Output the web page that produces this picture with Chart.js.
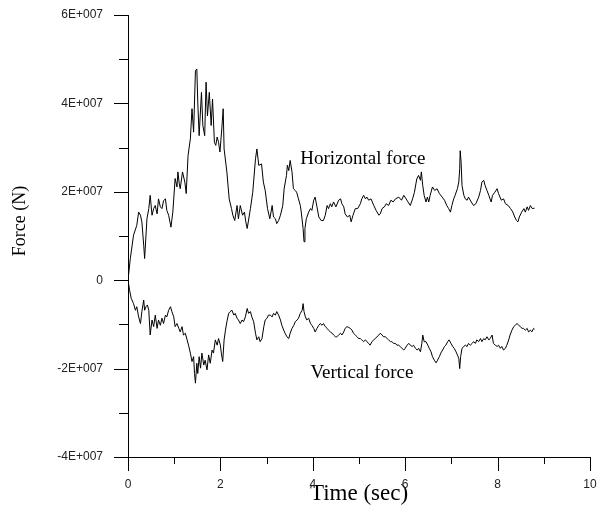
<!DOCTYPE html>
<html>
<head>
<meta charset="utf-8">
<title>Force history</title>
<script src="https://cdn.jsdelivr.net/npm/chart.js@4.4.1/dist/chart.umd.min.js"></script>
<style>
  html, body { margin: 0; padding: 0; background: #fff; }
  #wrap { width: 608px; height: 512px; }
</style>
</head>
<body>
<div id="wrap"><canvas id="forceChart" width="608" height="512"></canvas></div>
<script>
// ---------------------------------------------
// DATA  (time in s, force in 1E+006 N)
// ---------------------------------------------

const horizTime = [
  0, 0.05, 0.12, 0.19, 0.23, 0.27, 0.30, 0.34, 0.36, 0.41,
  0.45, 0.48, 0.52, 0.555, 0.59, 0.63, 0.66, 0.70, 0.735, 0.77,
  0.81, 0.84, 0.88, 0.93, 0.97, 0.99, 1.02, 1.06, 1.08, 1.11,
  1.13, 1.18, 1.23, 1.26, 1.30, 1.35, 1.385, 1.42, 1.46, 1.49,
  1.51, 1.54, 1.59, 1.62, 1.66, 1.69, 1.72, 1.76, 1.80, 1.83,
  1.87, 1.90, 1.93, 1.96, 1.99, 2.03, 2.06, 2.08, 2.14, 2.19,
  2.24, 2.27, 2.31, 2.36, 2.39, 2.43, 2.48, 2.52, 2.55, 2.58,
  2.65, 2.70, 2.76, 2.79, 2.83, 2.89, 2.93, 2.97, 3.02, 3.07,
  3.12, 3.15, 3.19, 3.22, 3.26, 3.30, 3.35, 3.38, 3.43, 3.45,
  3.48, 3.51, 3.55, 3.58, 3.62, 3.65, 3.69, 3.73, 3.75, 3.79,
  3.81, 3.83, 3.86, 3.91, 3.95, 3.98, 4.02, 4.05, 4.09, 4.13,
  4.18, 4.23, 4.27, 4.31, 4.34, 4.38, 4.41, 4.45, 4.50, 4.56,
  4.60, 4.63, 4.67, 4.70, 4.75, 4.80, 4.83, 4.87, 4.92, 4.97,
  5.03, 5.06, 5.10, 5.14, 5.17, 5.21, 5.26, 5.32, 5.37, 5.43,
  5.46, 5.50, 5.55, 5.59, 5.64, 5.69, 5.74, 5.79, 5.86, 5.92,
  5.97, 6.02, 6.06, 6.11, 6.16, 6.20, 6.25, 6.29, 6.33, 6.35,
  6.38, 6.41, 6.45, 6.48, 6.51, 6.54, 6.59, 6.64, 6.69, 6.74,
  6.80, 6.85, 6.90, 6.94, 6.98, 7.01, 7.05, 7.08, 7.13, 7.16,
  7.18, 7.19, 7.21, 7.23, 7.27, 7.30, 7.34, 7.37, 7.43, 7.48,
  7.53, 7.59, 7.63, 7.66, 7.70, 7.73, 7.77, 7.81, 7.86, 7.89,
  7.94, 7.99, 8.02, 8.08, 8.13, 8.17, 8.23, 8.28, 8.33, 8.37,
  8.41, 8.44, 8.47, 8.52, 8.57, 8.60, 8.64, 8.67, 8.71, 8.75,
  8.80
];
const horizForce = [
  0, 4.9, 10.2, 12.4, 15.4, 14.7, 13.2, 7.9, 4.9, 13.9,
  16.2, 19.2, 14.7, 16.2, 16.9, 15.0, 18.4, 16.6, 16.2, 18.0,
  18.4, 15.8, 14.7, 12.0, 15.4, 18.4, 23.0, 21.1, 24.5, 21.8,
  20.7, 24.5, 22.2, 19.6, 28.2, 32.0, 38.8, 33.5, 47.4, 47.8,
  40.3, 32.7, 42.5, 35.0, 32.7, 44.8, 37.2, 42.5, 35.0, 41.0,
  31.2, 30.5, 32.4, 31.2, 29.0, 34.2, 38.8, 29.7, 24.5, 18.4,
  16.2, 14.7, 13.5, 16.9, 13.9, 16.9, 14.7, 15.4, 13.2, 11.7,
  16.2, 19.9, 27.5, 29.7, 26.0, 26.3, 22.2, 20.3, 16.2, 13.9,
  16.9, 14.3, 13.9, 12.8, 13.5, 14.7, 16.9, 20.7, 23.7, 26.0,
  24.8, 27.1, 24.5, 20.7, 20.3, 19.9, 18.4, 16.9, 15.4, 11.7,
  8.7, 11.7, 13.9, 15.4, 16.2, 15.8, 18.1, 18.8, 16.6, 14.3,
  13.5, 13.5, 14.7, 16.9, 16.2, 17.3, 16.6, 17.7, 16.6, 18.1,
  18.4, 17.3, 16.6, 15.0, 14.3, 14.7, 13.2, 14.7, 16.2, 16.2,
  17.3, 18.4, 19.2, 18.4, 18.8, 18.1, 18.4, 16.9, 15.8, 14.7,
  15.0, 16.2, 16.6, 17.3, 16.9, 18.1, 17.7, 18.4, 18.8, 18.1,
  19.2, 18.4, 17.7, 16.9, 18.4, 19.9, 22.9, 23.7, 22.6, 24.5,
  21.4, 19.2, 17.7, 18.8, 17.7, 19.2, 21.1, 20.3, 20.7, 19.6,
  18.8, 18.1, 16.9, 16.2, 15.4, 16.9, 18.4, 19.2, 20.7, 22.2,
  25.2, 29.3, 26.7, 21.4, 19.2, 18.4, 18.1, 18.8, 17.7, 16.9,
  17.3, 18.8, 20.3, 22.2, 22.6, 21.4, 20.3, 19.2, 17.7, 19.2,
  19.9, 20.7, 19.6, 18.1, 18.4, 17.3, 16.9, 16.2, 15.4, 14.3,
  13.5, 13.2, 14.3, 15.4, 16.2, 15.4, 16.6, 15.8, 16.9, 16.2,
  16.3
];

const vertTime = [
  0, 0.035, 0.07, 0.12, 0.16, 0.19, 0.23, 0.27, 0.30, 0.34,
  0.36, 0.39, 0.42, 0.45, 0.48, 0.52, 0.555, 0.59, 0.63, 0.66,
  0.70, 0.735, 0.77, 0.81, 0.84, 0.88, 0.92, 0.95, 0.99, 1.02,
  1.06, 1.10, 1.13, 1.17, 1.20, 1.24, 1.28, 1.31, 1.35, 1.385,
  1.42, 1.44, 1.46, 1.49, 1.51, 1.54, 1.57, 1.60, 1.64, 1.67,
  1.71, 1.745, 1.78, 1.82, 1.85, 1.89, 1.93, 1.96, 2.00, 2.02,
  2.05, 2.08, 2.11, 2.14, 2.18, 2.21, 2.25, 2.29, 2.32, 2.36,
  2.39, 2.43, 2.47, 2.50, 2.54, 2.58, 2.61, 2.65, 2.68, 2.72,
  2.76, 2.79, 2.83, 2.86, 2.90, 2.94, 2.97, 3.01, 3.04, 3.08,
  3.12, 3.15, 3.19, 3.22, 3.26, 3.30, 3.33, 3.37, 3.40, 3.44,
  3.48, 3.51, 3.55, 3.59, 3.62, 3.66, 3.69, 3.73, 3.77, 3.79,
  3.81, 3.84, 3.87, 3.91, 3.95, 3.98, 4.02, 4.05, 4.09, 4.13,
  4.16, 4.20, 4.23, 4.27, 4.31, 4.34, 4.38, 4.42, 4.45, 4.49,
  4.52, 4.56, 4.60, 4.63, 4.67, 4.70, 4.74, 4.78, 4.81, 4.85,
  4.88, 4.92, 4.96, 4.99, 5.03, 5.06, 5.10, 5.14, 5.17, 5.21,
  5.24, 5.28, 5.32, 5.35, 5.39, 5.43, 5.46, 5.50, 5.53, 5.57,
  5.61, 5.64, 5.68, 5.71, 5.75, 5.79, 5.82, 5.86, 5.89, 5.93,
  5.97, 6.00, 6.04, 6.08, 6.11, 6.15, 6.18, 6.22, 6.26, 6.29,
  6.33, 6.36, 6.38, 6.41, 6.45, 6.49, 6.52, 6.56, 6.59, 6.63,
  6.67, 6.70, 6.74, 6.77, 6.81, 6.85, 6.88, 6.92, 6.95, 6.99,
  7.03, 7.06, 7.10, 7.13, 7.16, 7.18, 7.20, 7.23, 7.27, 7.30,
  7.34, 7.37, 7.41, 7.45, 7.48, 7.52, 7.55, 7.59, 7.63, 7.66,
  7.70, 7.73, 7.77, 7.81, 7.84, 7.88, 7.91, 7.95, 7.99, 8.02,
  8.06, 8.09, 8.13, 8.17, 8.20, 8.24, 8.27, 8.31, 8.35, 8.38,
  8.42, 8.46, 8.49, 8.53, 8.56, 8.60, 8.64, 8.67, 8.71, 8.74,
  8.78, 8.80
];
const vertForce = [
  0, -2.3, -4.1, -5.3, -6.8, -6.0, -8.3, -9.8, -7.1, -4.5,
  -6.8, -6.0, -5.6, -6.8, -12.4, -9.0, -10.5, -7.9, -10.9, -9.0,
  -10.2, -8.6, -9.8, -7.9, -8.3, -6.8, -6.0, -7.1, -8.3, -10.5,
  -9.8, -10.9, -11.7, -10.5, -12.4, -12.0, -13.5, -14.7, -16.5, -18.4,
  -17.3, -21.1, -23.3, -18.8, -21.1, -17.3, -19.9, -16.5, -19.2, -18.1,
  -20.3, -16.9, -18.8, -15.8, -16.5, -13.5, -14.7, -13.2, -14.7, -16.5,
  -18.4, -13.5, -11.3, -9.4, -7.5, -7.1, -6.8, -7.9, -7.5, -8.6,
  -9.0, -9.8, -9.0, -9.4, -8.3, -6.4, -7.5, -7.1, -8.3, -9.4,
  -12.0, -13.5, -12.8, -13.9, -13.2, -10.5, -9.0, -8.6, -7.9, -7.9,
  -8.3, -7.5, -7.9, -7.1, -7.9, -9.0, -10.2, -11.3, -12.0, -12.8,
  -13.2, -12.0, -10.9, -10.2, -9.4, -9.0, -8.6, -7.5, -6.8, -5.3,
  -7.1, -8.3, -9.0, -8.6, -9.8, -10.2, -10.9, -11.7, -10.9, -10.2,
  -9.8, -10.2, -9.8, -10.5, -10.9, -11.3, -11.7, -12.0, -12.4, -12.8,
  -12.8, -12.4, -12.0, -12.4, -11.7, -10.9, -10.5, -10.7, -10.9, -11.3,
  -12.0, -12.4, -12.8, -13.2, -13.2, -13.5, -13.9, -13.5, -13.9, -14.3,
  -14.7, -13.9, -13.5, -13.2, -12.8, -12.4, -12.0, -12.4, -12.8, -12.8,
  -13.2, -13.5, -13.9, -13.9, -14.3, -14.3, -14.7, -14.7, -15.0, -15.4,
  -15.8, -15.4, -14.7, -14.3, -14.7, -15.0, -14.7, -15.4, -15.8, -15.4,
  -16.2, -14.3, -12.4, -13.9, -13.9, -14.7, -15.4, -16.2, -17.3, -18.1,
  -18.7, -18.1, -17.3, -16.5, -15.8, -15.0, -14.7, -13.9, -13.5, -14.3,
  -15.0, -15.4, -16.2, -16.9, -17.7, -20.0, -17.3, -15.4, -15.0, -14.7,
  -15.0, -14.3, -14.7, -14.3, -13.9, -14.3, -13.5, -13.9, -13.2, -13.9,
  -13.2, -13.5, -12.8, -13.5, -13.2, -12.4, -14.3, -14.7, -15.0, -14.7,
  -15.4, -15.0, -15.8, -15.4, -14.7, -13.5, -12.4, -11.3, -10.5, -10.2,
  -9.8, -10.2, -10.5, -10.9, -10.9, -11.3, -10.9, -11.7, -11.3, -11.7,
  -10.9, -11.1
];

const xTickValues = [0, 2, 4, 6, 8, 10];
const xTickLabels = ['0', '2', '4', '6', '8', '10'];
const yTickValues = [-4e7, -2e7, 0, 2e7, 4e7, 6e7];
const yTickLabels = ['-4E+007', '-2E+007', '0', '2E+007', '4E+007', '6E+007'];

const seriesNames = ['Horizontal force', 'Vertical force'];

// ---------------------------------------------
// HELPERS / PLUGINS
// ---------------------------------------------

const SERIF = '"Liberation Serif", "Times New Roman", serif';
const SANS = '"Liberation Sans", Arial, sans-serif';

function toPoints(times, forces) {
    return times.map((t, i) => ({ x: t, y: forces[i] * 1e6 }));
}

// keep the plot box fixed: no extra room reserved for end labels
function noEdgePadding(scale) {
    scale.paddingTop = 0;
    scale.paddingBottom = 0;
    scale.paddingLeft = 0;
    scale.paddingRight = 0;
}

// tick marks outside the axes, long ones on labelled values
const tickMarks = {
    id: 'tickMarks',
    afterDraw(chart) {
        const { ctx, chartArea, scales: { x, y } } = chart;
        ctx.save();
        ctx.strokeStyle = '#000';
        ctx.lineWidth = 1;
        ctx.beginPath();
        for (let v = y.min; v <= y.max; v += 1e7) {
            const py = Math.round(y.getPixelForValue(v)) + 0.5;
            const len = v % 2e7 === 0 ? 14 : 9;
            ctx.moveTo(chartArea.left - len, py);
            ctx.lineTo(chartArea.left + 0.5, py);
        }
        for (let v = x.min; v <= x.max; v += 1) {
            const px = Math.round(x.getPixelForValue(v)) + 0.5;
            const len = v % 2 === 0 ? 14 : 7;
            ctx.moveTo(px, chartArea.bottom);
            ctx.lineTo(px, chartArea.bottom + len);
        }
        ctx.stroke();
        ctx.restore();
    }
};

// series names next to the curves + the vertical axis title
const curveNotes = {
    id: 'curveNotes',
    afterDraw(chart) {
        const { ctx, chartArea, scales: { x, y } } = chart;
        ctx.save();
        ctx.fillStyle = '#000';
        ctx.font = '19px ' + SERIF;
        ctx.textAlign = 'left';
        ctx.textBaseline = 'alphabetic';
        ctx.fillText(seriesNames[0], x.getPixelForValue(3.73), y.getPixelForValue(2.63e7));
        ctx.fillText(seriesNames[1], x.getPixelForValue(3.95), y.getPixelForValue(-2.22e7));

        ctx.font = '18px ' + SERIF;
        ctx.translate(20, (chartArea.top + chartArea.bottom) / 2 - 15);
        ctx.rotate(-Math.PI / 2);
        ctx.textAlign = 'center';
        ctx.textBaseline = 'middle';
        ctx.fillText('Force (N)', 0, 0);
        ctx.restore();
    }
};

// ---------------------------------------------
// CHART
// ---------------------------------------------

const ctx = document.getElementById('forceChart').getContext('2d');

const lineStyle = {
    borderColor: '#000',
    borderWidth: 1,
    pointRadius: 0,
    showLine: true,
    fill: false,
    tension: 0
};

new Chart(ctx, {
    type: 'scatter',
    data: {
        datasets: [
            { label: seriesNames[0], data: toPoints(horizTime, horizForce), ...lineStyle },
            { label: seriesNames[1], data: toPoints(vertTime, vertForce), ...lineStyle }
        ]
    },
    options: {
        responsive: false,
        animation: false,
        layout: { padding: { top: 15, right: 18, bottom: 0, left: 0 } },
        plugins: {
            legend: { display: false },
            tooltip: { enabled: false }
        },
        scales: {
            x: {
                type: 'linear',
                min: 0,
                max: 10,
                afterBuildTicks: (scale) => {
                    scale.ticks = xTickValues.map(v => ({ value: v }));
                },
                afterFit: (scale) => {
                    scale.height = 55;
                    noEdgePadding(scale);
                },
                ticks: {
                    callback: (value, i) => xTickLabels[i],
                    color: '#222',
                    font: { family: SANS, size: 12 },
                    padding: 20,
                    maxRotation: 0
                },
                grid: { display: false, drawTicks: false, tickLength: 0 },
                border: { display: true, color: '#000', width: 1 },
                title: {
                    display: true,
                    text: 'Time (sec)',
                    color: '#000',
                    font: { family: SERIF, size: 23 },
                    padding: { top: 0, bottom: 4 }
                }
            },
            y: {
                type: 'linear',
                min: -4e7,
                max: 6e7,
                afterBuildTicks: (scale) => {
                    scale.ticks = yTickValues.map(v => ({ value: v }));
                },
                afterFit: (scale) => {
                    scale.width = 128;
                    noEdgePadding(scale);
                },
                ticks: {
                    callback: (value, i) => yTickLabels[i],
                    color: '#222',
                    font: { family: SANS, size: 12 },
                    padding: 25
                },
                grid: { display: false, drawTicks: false, tickLength: 0 },
                border: { display: true, color: '#000', width: 1 }
            }
        }
    },
    plugins: [tickMarks, curveNotes]
});
</script>
</body>
</html>
